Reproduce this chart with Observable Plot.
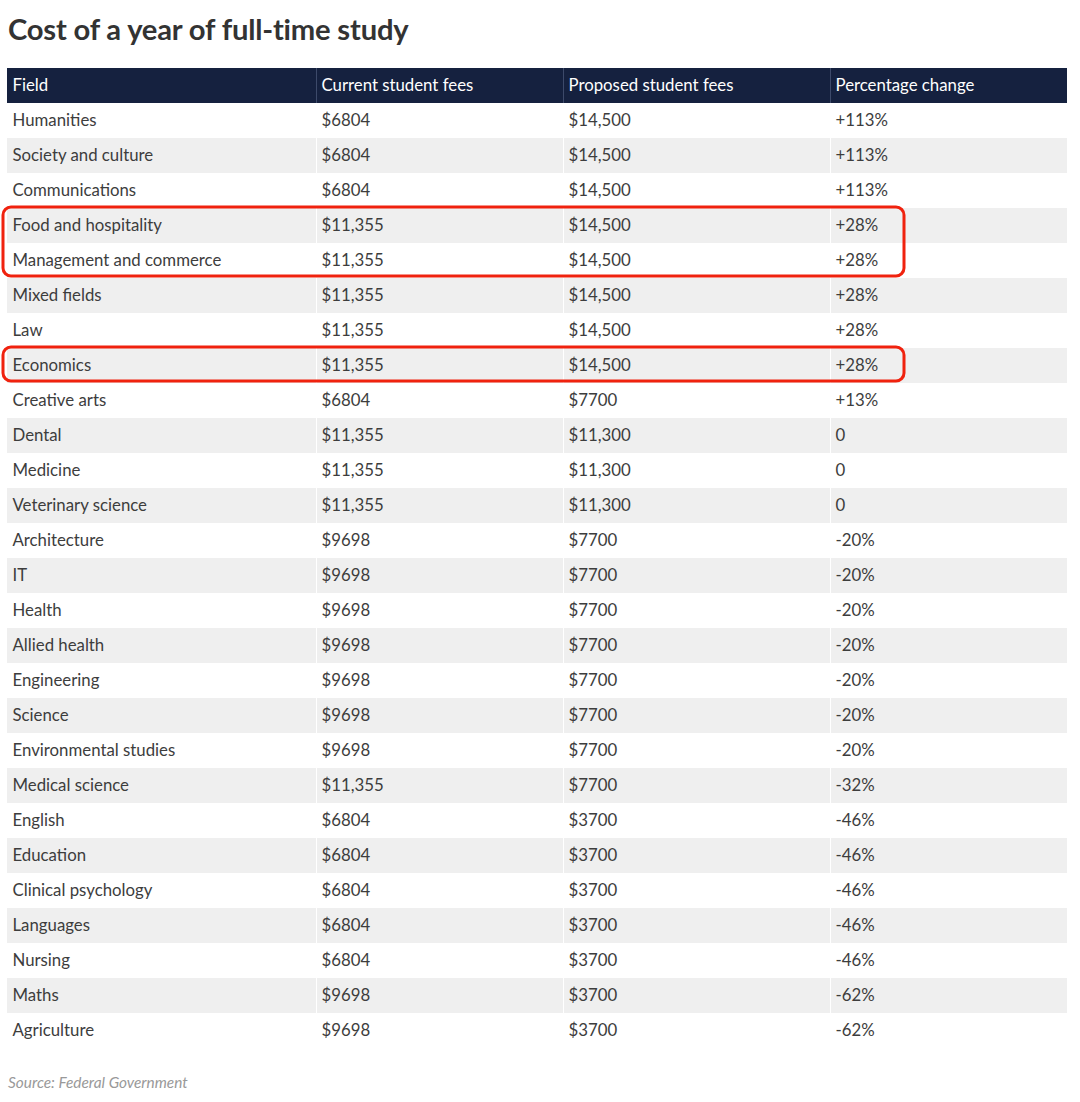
<!DOCTYPE html>
<html><head><meta charset="utf-8">
<script src="https://cdn.jsdelivr.net/npm/d3@7"></script>
<script src="https://cdn.jsdelivr.net/npm/@observablehq/plot@0.6"></script>
<style>
body{margin:0;background:#fff;font-family:Lato,sans-serif;}
#wrap{position:relative;width:1080px;height:1102px;overflow:hidden;}
#chart{position:absolute;left:0;top:0;}
#title{position:absolute;left:8px;top:11px;font-size:29.2px;font-weight:700;color:#333;letter-spacing:-0.2px;}
#source{position:absolute;left:8px;top:1073px;font-size:15.4px;font-style:italic;color:#999;}
</style></head>
<body><div id="wrap"><div id="chart"></div><div id="title"></div><div id="source"></div></div>
<script>
const titleText = "Cost of a year of full-time study";
const sourceText = "Source: Federal Government";
const columns = ["Field", "Current student fees", "Proposed student fees", "Percentage change"];
const fields = ["Humanities","Society and culture","Communications","Food and hospitality","Management and commerce","Mixed fields","Law","Economics","Creative arts","Dental","Medicine","Veterinary science","Architecture","IT","Health","Allied health","Engineering","Science","Environmental studies","Medical science","English","Education","Clinical psychology","Languages","Nursing","Maths","Agriculture"];
const currentFees = [6804,6804,6804,11355,11355,11355,11355,11355,6804,11355,11355,11355,9698,9698,9698,9698,9698,9698,9698,11355,6804,6804,6804,6804,6804,9698,9698];
const proposedFees = [14500,14500,14500,14500,14500,14500,14500,14500,7700,11300,11300,11300,7700,7700,7700,7700,7700,7700,7700,7700,3700,3700,3700,3700,3700,3700,3700];
const percentChange = [113,113,113,28,28,28,28,28,13,0,0,0,-20,-20,-20,-20,-20,-20,-20,-32,-46,-46,-46,-46,-46,-62,-62];
const highlighted = [["Food and hospitality","Management and commerce"],["Economics"]];

// layout (pixels)
const colStart = [7, 316, 563, 830];
const tableEnd = 1067;
const pad = 5;

document.getElementById("title").textContent = titleText;
document.getElementById("source").textContent = sourceText;

const fmtMoney = n => "$" + (n >= 10000 ? d3.format(",")(n) : String(n));
const fmtPct = v => v > 0 ? "+" + v + "%" : v < 0 ? "-" + Math.abs(v) + "%" : "0";

const rows = fields.map((f, k) => ({
  field: f, current: currentFees[k], proposed: proposedFees[k], change: percentChange[k], i: k + 1
}));
const nRows = rows.length + 1;
const txt = "#3d3d3d";
const fs = 16.8;

const textOpts = (col, text) => ({
  x: () => colStart[col] + pad, y: d => d.i + 0.5, text,
  textAnchor: "start", fill: txt, fontSize: fs
});

const chart = Plot.plot({
  width: 1080, height: 1102,
  marginTop: 0, marginBottom: 0, marginLeft: 0, marginRight: 0,
  x: {type: "linear", domain: [0, 1080], range: [0, 1080], axis: null},
  y: {type: "linear", domain: [0, nRows], range: [68, 68 + 35 * nRows], axis: null},
  style: {fontFamily: "Lato, sans-serif", fontSize: "16px", background: "transparent"},
  marks: [
    Plot.rect([0], {x1: colStart[0], x2: tableEnd, y1: 0, y2: 1, fill: "#15213f"}),
    Plot.rect(rows.filter(r => r.i % 2 === 0), {x1: colStart[0], x2: tableEnd, y1: d => d.i, y2: d => d.i + 1, fill: "#efefef"}),
    Plot.ruleX(colStart.slice(1), {y1: 1, y2: nRows, stroke: "#fff", strokeWidth: 1}),
    Plot.ruleX(colStart.slice(1), {y1: 0, y2: 1, stroke: "#3d4a6a", strokeWidth: 1}),
    Plot.text(columns, {x: (d, j) => colStart[j] + pad, y: 0.5, text: d => d, textAnchor: "start", fill: "#fff", fontSize: fs}),
    Plot.text(rows, textOpts(0, d => d.field)),
    Plot.text(rows, textOpts(1, d => fmtMoney(d.current))),
    Plot.text(rows, textOpts(2, d => fmtMoney(d.proposed))),
    Plot.text(rows, textOpts(3, d => fmtPct(d.change))),
    Plot.rect(highlighted, {
      x1: 3, x2: 904,
      y1: g => fields.indexOf(g[0]) + 1,
      y2: g => fields.indexOf(g[g.length - 1]) + 2,
      insetTop: -1, insetBottom: 2,
      fill: "none", stroke: "#f0220e", strokeWidth: 3, rx: 8
    })
  ]
});
document.getElementById("chart").appendChild(chart);
</script>
</body></html>
